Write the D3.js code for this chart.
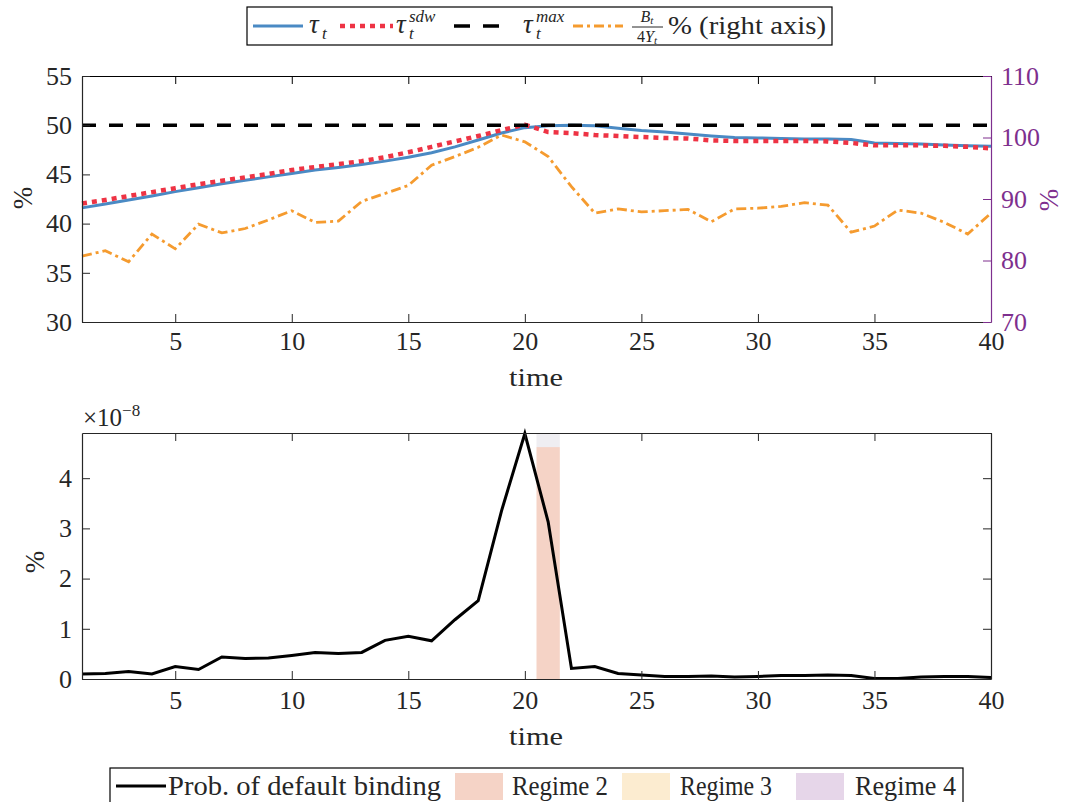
<!DOCTYPE html>
<html>
<head>
<meta charset="utf-8">
<script src="https://cdn.jsdelivr.net/npm/d3@7"></script>
<style>
  body { margin: 0; background: #fff; }
  svg text { font-family: "Liberation Serif", "Times New Roman", Times, serif; fill: #262626; }
</style>
</head>
<body>
<svg id="chart" width="1069" height="802"></svg>
<script>
// Data
const time = [1,2,3,4,5,6,7,8,9,10,11,12,13,14,15,16,17,18,19,20,
              21,22,23,24,25,26,27,28,29,30,31,32,33,34,35,36,37,38,39,40];
const tau = [41.6,42.0,42.4,42.8,43.25,43.65,44.05,44.4,44.75,45.1,
             45.45,45.7,46.0,46.35,46.75,47.2,47.8,48.5,49.2,49.75,
             49.95,50.0,49.95,49.7,49.45,49.3,49.1,48.9,48.75,48.7,
             48.65,48.6,48.6,48.55,48.2,48.15,48.1,48.0,47.9,47.85];
const tauSdw = [42.05,42.4,42.8,43.2,43.6,44.0,44.35,44.7,45.05,45.45,
                45.75,46.05,46.35,46.75,47.25,47.8,48.35,48.9,49.5,50.05,
                49.3,49.2,49.0,48.9,48.8,48.7,48.65,48.45,48.4,48.4,
                48.4,48.4,48.35,48.2,47.95,47.95,47.95,47.9,47.8,47.65];
const tauMax = 50;
const debtRatio = [80.7,81.6,79.8,84.3,81.9,85.9,84.5,85.2,86.6,88.1,
                   86.2,86.4,89.6,90.9,92.2,95.5,96.9,98.4,100.4,99.3,
                   96.9,92.0,87.7,88.4,87.9,88.1,88.3,86.3,88.4,88.5,
                   88.8,89.4,89.0,84.6,85.6,88.2,87.7,86.2,84.3,87.7];
// probability of default binding, in units of 1e-8
const probDefault = [0.10,0.11,0.15,0.10,0.25,0.19,0.44,0.41,0.42,0.47,
                     0.53,0.51,0.53,0.77,0.85,0.76,1.18,1.56,3.35,4.89,
                     3.13,0.21,0.25,0.11,0.08,0.05,0.05,0.06,0.04,0.05,
                     0.07,0.07,0.08,0.07,0.01,0.01,0.04,0.05,0.05,0.03];
const regime2Spans = [[20.5, 21.5]];
const regime2Top = 4.62;
const xTicks = [5,10,15,20,25,30,35,40];
const leftTicks = [30,35,40,45,50,55];
const rightTicks = [70,80,90,100,110];
const bottomTicks = [0,1,2,3,4];

const svg = d3.select('#chart');
svg.append('rect').attr('width', 1069).attr('height', 802).attr('fill', '#fff');

const axisColor = '#262626';
const purple = '#7e2f8e';
const fontSize = 26;
const serif = '"Liberation Serif", "Times New Roman", Times, serif';

// Scales
const x = d3.scaleLinear().domain([1, 40]).range([82, 991]);
const yL = d3.scaleLinear().domain([30, 55]).range([322, 76]);
const yR = d3.scaleLinear().domain([70, 110]).range([322, 76]);
const yB = d3.scaleLinear().domain([0, 4.9]).range([679, 433]);

function styleAxis(g, color) {
    g.attr('font-family', serif);
    g.selectAll('path').attr('stroke', color).attr('stroke-width', 1.2);
    g.selectAll('line').attr('stroke', color).attr('stroke-width', 1);
    g.selectAll('text').style('font-size', fontSize + 'px').style('fill', color);
}

// ---------- Top panel ----------
const topPanel = svg.append('g');

const line = (ys, yScale) => d3.line().x((d, i) => x(time[i])).y(d => yScale(d))(ys);

topPanel.append('path').attr('d', line(tau, yL))
    .attr('fill', 'none').attr('stroke', '#4a8ac4').attr('stroke-width', 3);
topPanel.append('path').attr('d', line(tauSdw, yL))
    .attr('fill', 'none').attr('stroke', '#ee3344').attr('stroke-width', 4.5)
    .attr('stroke-dasharray', '5,5');
topPanel.append('path').attr('d', line(time.map(() => tauMax), yL))
    .attr('fill', 'none').attr('stroke', '#000').attr('stroke-width', 3.5)
    .attr('stroke-dasharray', '14,13');
topPanel.append('path').attr('d', line(debtRatio, yR))
    .attr('fill', 'none').attr('stroke', '#f59b2f').attr('stroke-width', 2.8)
    .attr('stroke-dasharray', '10,4,3,4');

topPanel.append('g').attr('transform', 'translate(0,322)')
    .call(d3.axisBottom(x).tickValues(xTicks).tickSizeInner(-8).tickSizeOuter(0).tickPadding(10))
    .call(g => styleAxis(g, axisColor));
topPanel.append('g').attr('transform', 'translate(0,76)')
    .call(d3.axisTop(x).tickValues(xTicks).tickSizeInner(-8).tickSizeOuter(0).tickFormat(''))
    .call(g => styleAxis(g, '#000'));
topPanel.append('g').attr('transform', 'translate(82,0)')
    .call(d3.axisLeft(yL).tickValues(leftTicks).tickSizeInner(-8).tickSizeOuter(0).tickPadding(10))
    .call(g => styleAxis(g, axisColor));
topPanel.append('g').attr('transform', 'translate(991,0)')
    .call(d3.axisRight(yR).tickValues(rightTicks).tickSizeInner(-8).tickSizeOuter(0).tickPadding(10))
    .call(g => styleAxis(g, purple));

topPanel.append('text').attr('x', 536).attr('y', 386).attr('text-anchor', 'middle')
    .attr('font-size', 26).attr('textLength', 54).attr('lengthAdjust', 'spacingAndGlyphs').text('time');
topPanel.append('text').attr('transform', 'translate(32,198) rotate(-90)').attr('text-anchor', 'middle')
    .attr('font-size', 27).text('%');
topPanel.append('text').attr('transform', 'translate(1058,200) rotate(-90)').attr('text-anchor', 'middle')
    .attr('font-size', 27).style('fill', purple).text('%');

// ---------- Bottom panel ----------
const botPanel = svg.append('g');

botPanel.selectAll('.regime2').data(regime2Spans).enter().append('rect')
    .attr('x', d => x(d[0])).attr('width', d => x(d[1]) - x(d[0]))
    .attr('y', yB(regime2Top)).attr('height', yB(0) - yB(regime2Top))
    .attr('fill', '#f5d3c6');
botPanel.selectAll('.regimeTop').data(regime2Spans).enter().append('rect')
    .attr('x', d => x(d[0])).attr('width', d => x(d[1]) - x(d[0]))
    .attr('y', yB(4.9)).attr('height', yB(regime2Top) - yB(4.9))
    .attr('fill', '#efeef2');

botPanel.append('path').attr('d', line(probDefault, yB))
    .attr('fill', 'none').attr('stroke', '#000').attr('stroke-width', 3);

botPanel.append('g').attr('transform', 'translate(0,679)')
    .call(d3.axisBottom(x).tickValues(xTicks).tickSizeInner(-8).tickSizeOuter(0).tickPadding(12))
    .call(g => styleAxis(g, axisColor));
botPanel.append('g').attr('transform', 'translate(0,433)')
    .call(d3.axisTop(x).tickValues(xTicks).tickSizeInner(-8).tickSizeOuter(0).tickFormat(''))
    .call(g => styleAxis(g, axisColor));
botPanel.append('g').attr('transform', 'translate(82,0)')
    .call(d3.axisLeft(yB).tickValues(bottomTicks).tickFormat(d3.format('d'))
        .tickSizeInner(-8).tickSizeOuter(0).tickPadding(10))
    .call(g => styleAxis(g, axisColor));
botPanel.append('g').attr('transform', 'translate(991,0)')
    .call(d3.axisRight(yB).tickValues(bottomTicks).tickSizeInner(-8).tickSizeOuter(0).tickFormat(''))
    .call(g => styleAxis(g, axisColor));

botPanel.append('text').attr('x', 536).attr('y', 745).attr('text-anchor', 'middle')
    .attr('font-size', 26).attr('textLength', 54).attr('lengthAdjust', 'spacingAndGlyphs').text('time');
botPanel.append('text').attr('transform', 'translate(44,562) rotate(-90)').attr('text-anchor', 'middle')
    .attr('font-size', 27).text('%');
const expo = botPanel.append('text').attr('x', 83).attr('y', 426).attr('font-size', 25);
expo.append('tspan').text('×10');
expo.append('tspan').attr('dy', -10).attr('font-size', 17).text('−8');

// ---------- Top legend ----------
const leg = svg.append('g');
leg.append('rect').attr('x', 247).attr('y', 7).attr('width', 585).attr('height', 38)
    .attr('fill', '#fff').attr('stroke', '#000').attr('stroke-width', 1.2);

const ly = 26;
leg.append('line').attr('x1', 253).attr('x2', 303).attr('y1', ly).attr('y2', ly)
    .attr('stroke', '#4a8ac4').attr('stroke-width', 3);
leg.append('line').attr('x1', 340).attr('x2', 393).attr('y1', ly).attr('y2', ly)
    .attr('stroke', '#ee3344').attr('stroke-width', 4.5).attr('stroke-dasharray', '5,5');
leg.append('line').attr('x1', 454).attr('x2', 512).attr('y1', ly).attr('y2', ly)
    .attr('stroke', '#000').attr('stroke-width', 3.5).attr('stroke-dasharray', '16,13');
leg.append('line').attr('x1', 573).attr('x2', 623).attr('y1', ly).attr('y2', ly)
    .attr('stroke', '#f59b2f').attr('stroke-width', 2.8).attr('stroke-dasharray', '10,4,3,4');

function tauLabel(x0, sup) {
    leg.append('text').attr('x', x0).attr('y', 33).attr('font-size', 27)
        .attr('font-style', 'italic').text('τ');
    leg.append('text').attr('x', x0 + 13).attr('y', 39).attr('font-size', 17)
        .attr('font-style', 'italic').text('t');
    if (sup) {
        leg.append('text').attr('x', x0 + 13).attr('y', 22).attr('font-size', 17)
            .attr('font-style', 'italic').text(sup);
    }
}
tauLabel(309, null);
tauLabel(396, 'sdw');
tauLabel(523, 'max');

// fraction B_t / 4Y_t
const fr = leg.append('g');
const fb = fr.append('text').attr('x', 647).attr('y', 22).attr('font-size', 16).attr('text-anchor', 'middle');
fb.append('tspan').attr('font-style', 'italic').text('B');
fb.append('tspan').attr('font-style', 'italic').attr('font-size', 11).attr('dy', 2).text('t');
fr.append('line').attr('x1', 632).attr('x2', 663).attr('y1', 27).attr('y2', 27)
    .attr('stroke', '#262626').attr('stroke-width', 1);
const fd = fr.append('text').attr('x', 647).attr('y', 42).attr('font-size', 16).attr('text-anchor', 'middle');
fd.append('tspan').text('4');
fd.append('tspan').attr('font-style', 'italic').text('Y');
fd.append('tspan').attr('font-style', 'italic').attr('font-size', 11).attr('dy', 2).text('t');
leg.append('text').attr('x', 668).attr('y', 34).attr('font-size', 26)
    .attr('textLength', 158).attr('lengthAdjust', 'spacingAndGlyphs').text('% (right axis)');

// ---------- Bottom legend ----------
const leg2 = svg.append('g');
leg2.append('rect').attr('x', 110).attr('y', 768).attr('width', 853).attr('height', 40)
    .attr('fill', '#fff').attr('stroke', '#000').attr('stroke-width', 1.2);
const ly2 = 786;
leg2.append('line').attr('x1', 116).attr('x2', 166).attr('y1', ly2).attr('y2', ly2)
    .attr('stroke', '#000').attr('stroke-width', 3);
const legItems2 = [
    { label: 'Prob. of default binding', x: 168, w: 273 },
    { label: 'Regime 2', x: 512, w: 96, patch: 455, color: '#f5d3c6' },
    { label: 'Regime 3', x: 680, w: 92, patch: 622, color: '#fcecd0' },
    { label: 'Regime 4', x: 855, w: 101, patch: 796, color: '#e6d6e9' }
];
legItems2.forEach(d => {
    if (d.patch) {
        leg2.append('rect').attr('x', d.patch).attr('y', 773).attr('width', 48).attr('height', 27)
            .attr('fill', d.color);
    }
    leg2.append('text').attr('x', d.x).attr('y', 795).attr('font-size', 27)
        .attr('textLength', d.w).attr('lengthAdjust', 'spacingAndGlyphs').text(d.label);
});
</script>
</body>
</html>
